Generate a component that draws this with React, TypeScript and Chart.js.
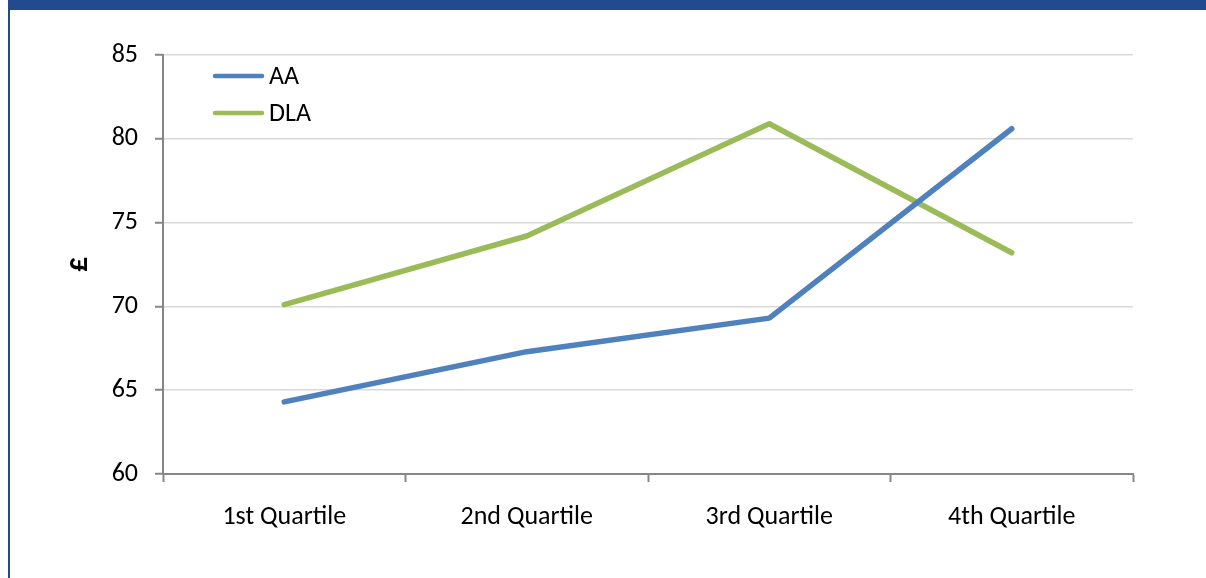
import React, { useEffect, useRef } from "react";
import { Chart, registerables } from "chart.js";

Chart.register(...registerables);

const categories = ["1st Quartile", "2nd Quartile", "3rd Quartile", "4th Quartile"];
const aaValues = [64.3, 67.3, 69.3, 80.6];
const dlaValues = [70.1, 74.2, 80.9, 73.2];
const yTicks = [60, 65, 70, 75, 80, 85];

const FONT = "Carlito, Calibri, Lato, sans-serif";
const FONT_SIZE = 26;
const AA_COLOR = "#4F81BD";
const DLA_COLOR = "#9BBB59";
const FRAME_COLOR = "#234A8F";

// Legend drawn inside the plot area, near its top-left corner
const insideLegend = {
  id: "insideLegend",
  afterDatasetsDraw(chart: any) {
    const { ctx, chartArea } = chart;
    const x0 = chartArea.left + 50;
    const y0 = chartArea.top + 21;
    const gap = 37;
    ctx.save();
    chart.data.datasets.forEach((ds: any, i: number) => {
      const y = y0 + i * gap;
      ctx.strokeStyle = ds.borderColor;
      ctx.lineWidth = 4.5;
      ctx.lineCap = "round";
      ctx.beginPath();
      ctx.moveTo(x0 + 2, y);
      ctx.lineTo(x0 + 49, y);
      ctx.stroke();
      ctx.fillStyle = "#000";
      ctx.font = `${FONT_SIZE}px ${FONT}`;
      ctx.textBaseline = "middle";
      ctx.textAlign = "left";
      ctx.fillText(ds.label, x0 + 56, y + 1);
    });
    ctx.restore();
  },
};

export default function App() {
  const canvasRef = useRef<HTMLCanvasElement | null>(null);

  useEffect(() => {
    document.body.style.margin = "0";
    const canvas = canvasRef.current;
    if (!canvas) return;
    const chart = new Chart(canvas, {
      type: "line",
      data: {
        labels: categories,
        datasets: [
          {
            label: "AA",
            data: aaValues,
            borderColor: AA_COLOR,
            backgroundColor: AA_COLOR,
            borderWidth: 5.5,
            pointRadius: 0,
            borderCapStyle: "round",
            borderJoinStyle: "round",
            tension: 0,
          },
          {
            label: "DLA",
            data: dlaValues,
            borderColor: DLA_COLOR,
            backgroundColor: DLA_COLOR,
            borderWidth: 5.5,
            pointRadius: 0,
            borderCapStyle: "round",
            borderJoinStyle: "round",
            tension: 0,
          },
        ],
      },
      options: {
        responsive: false,
        animation: false,
        layout: { padding: { left: 0, top: 55, right: 73, bottom: 0 } },
        plugins: {
          legend: { display: false },
          tooltip: { enabled: false },
          title: { display: false },
        },
        scales: {
          x: {
            offset: true,
            grid: {
              offset: true,
              drawOnChartArea: false,
              drawTicks: true,
              tickLength: 8,
              tickColor: "#868686",
              tickWidth: 2,
            },
            border: { color: "#868686", width: 2 },
            ticks: {
              color: "#000",
              font: { family: FONT, size: FONT_SIZE },
              padding: 20,
              maxRotation: 0,
            },
            afterFit(scale: any) {
              scale.height = 104;
            },
          },
          y: {
            min: 60,
            max: 85,
            afterBuildTicks(scale: any) {
              scale.ticks = yTicks.map((v) => ({ value: v }));
            },
            grid: {
              color: "#D9D9D9",
              lineWidth: 1.5,
              drawTicks: true,
              tickLength: 8,
              tickColor: "#868686",
              tickWidth: 2,
            },
            border: { color: "#868686", width: 2 },
            ticks: {
              color: "#000",
              font: { family: FONT, size: FONT_SIZE },
              padding: 17,
            },
            title: {
              display: true,
              text: "£",
              color: "#000",
              font: { family: FONT, size: 30, weight: "bold" },
              padding: { top: 61, bottom: 0 },
            },
            afterFit(scale: any) {
              scale.width = 163;
            },
          },
        },
      },
      plugins: [insideLegend],
    });
    return () => chart.destroy();
  }, []);

  return (
    <div style={{ position: "relative", width: 1206, height: 578, background: "#fff" }}>
      <canvas ref={canvasRef} width={1206} height={578} style={{ display: "block" }} />
      <div
        style={{
          position: "absolute",
          left: 8,
          top: 0,
          width: 1198,
          height: 10,
          background: FRAME_COLOR,
        }}
      />
      <div
        style={{
          position: "absolute",
          left: 8,
          top: 0,
          width: 2,
          height: 578,
          background: FRAME_COLOR,
        }}
      />
    </div>
  );
}
